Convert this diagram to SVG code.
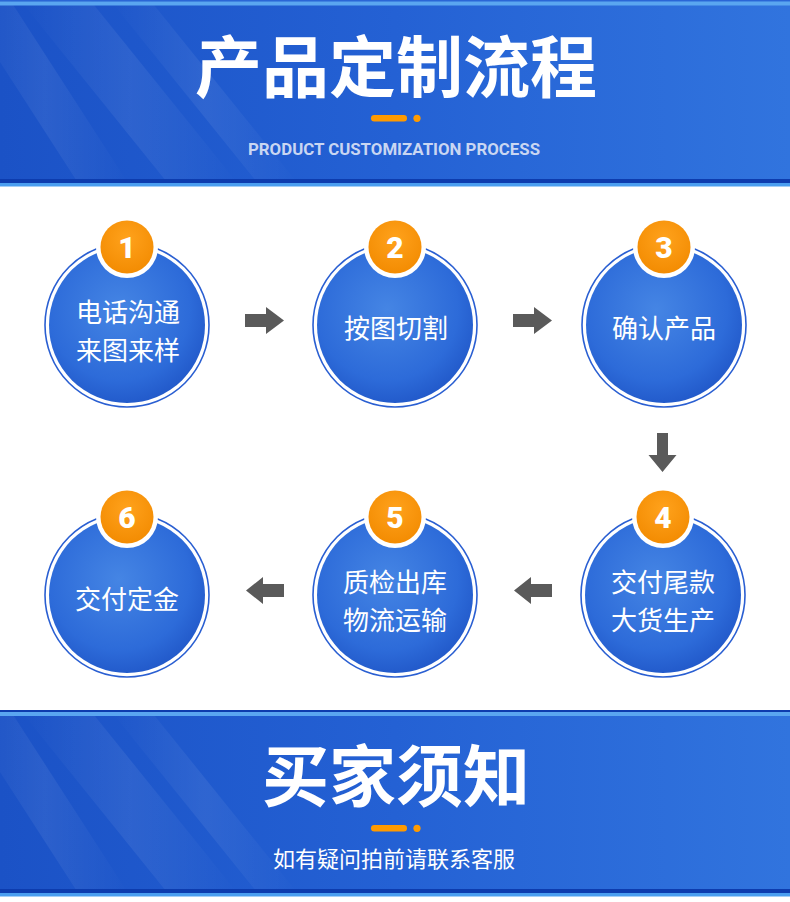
<svg xmlns="http://www.w3.org/2000/svg" width="790" height="902" viewBox="0 0 790 902">
<defs>
<linearGradient id="band" x1="0" y1="0" x2="1" y2="0">
<stop offset="0" stop-color="#1b52c6"/>
<stop offset="0.5" stop-color="#2461d4"/>
<stop offset="1" stop-color="#3174de"/>
</linearGradient>
<linearGradient id="streak" x1="0" y1="0" x2="1" y2="0">
<stop offset="0" stop-color="#ffffff" stop-opacity="0"/>
<stop offset="0.5" stop-color="#ffffff" stop-opacity="0.07"/>
<stop offset="1" stop-color="#ffffff" stop-opacity="0"/>
</linearGradient>
<radialGradient id="ball" cx="0.45" cy="0.4" r="0.7">
<stop offset="0" stop-color="#4585e4"/>
<stop offset="0.65" stop-color="#2d6bd9"/>
<stop offset="1" stop-color="#1c50c2"/>
</radialGradient>
<radialGradient id="badge" cx="0.5" cy="0.35" r="0.7">
<stop offset="0" stop-color="#ffa21c"/>
<stop offset="1" stop-color="#f28a00"/>
</radialGradient>
</defs>
<style>
.ring{fill:#ffffff;stroke:#2a5fd2;stroke-width:1.6}
.ball{fill:url(#ball)}
.bw{fill:#ffffff}
.bo{fill:url(#badge)}
.num{font-family:Roboto,"Liberation Sans",sans-serif;font-weight:900;font-size:30px;fill:#ffffff;text-anchor:middle}
.lbl{font-family:"Noto Sans CJK SC","Noto Sans",sans-serif;font-size:26px;fill:#ffffff;text-anchor:middle}
.arr{fill:#5a5a5a}
.title{font-family:"Noto Sans CJK SC",sans-serif;font-weight:700;font-size:67px;fill:#ffffff;text-anchor:middle}
.dash{fill:#ff9a00}
.streak{fill:url(#streak)}
</style>
<rect x="0" y="0" width="790" height="902" fill="#ffffff"/>

<g id="header">
<rect x="0" y="0" width="790" height="186" fill="url(#band)"/>
<polygon class="streak" points="20,0 90,0 240,186 170,186"/>
<polygon class="streak" points="110,0 150,0 300,186 260,186"/>
<polygon class="streak" points="-40,0 10,0 130,186 80,186"/>
<rect x="0" y="0" width="790" height="1.5" fill="#2a66d6"/>
<rect x="0" y="1.5" width="790" height="4" fill="#5aa6f0"/>
<rect x="0" y="179" width="790" height="4" fill="#0d3cae"/>
<rect x="0" y="183" width="790" height="3.5" fill="#4a9ef0"/>
<text class="title" x="396" y="92">产品定制流程</text>
<rect class="dash" x="371" y="115" width="36" height="6.5" rx="3.2"/>
<circle class="dash" cx="417" cy="118.3" r="3.6"/>
<text x="394" y="155" font-family="Roboto,'Liberation Sans',sans-serif" font-weight="700" font-size="16" fill="#c9d6f2" text-anchor="middle" textLength="292" lengthAdjust="spacingAndGlyphs">PRODUCT CUSTOMIZATION PROCESS</text>
</g>

<g id="connectors">
<polygon class="arr" points="245,314 266,314 266,307 284,320.5 266,334 266,327 245,327"/>
<polygon class="arr" points="513,314 534,314 534,307 552,320.5 534,334 534,327 513,327"/>
<polygon class="arr" points="657,433 668,433 668,455 676.5,455 662.5,472 648.5,455 657,455"/>
<polygon class="arr" points="552,584 531,584 531,577 514,590.5 531,604 531,597 552,597"/>
<polygon class="arr" points="284,584 263,584 263,577 246,590.5 263,604 263,597 284,597"/>
</g>

<g id="node1">
<circle class="ring" cx="127" cy="325" r="82"/>
<circle class="ball" cx="127" cy="325" r="78"/>
<circle class="bw" cx="127" cy="247" r="31"/>
<circle class="bo" cx="127" cy="247" r="26.5"/>
<text class="num" x="127" y="258">1</text>
<text class="lbl" x="128" y="322">电话沟通</text>
<text class="lbl" x="128" y="360">来图来样</text>
</g>
<g id="node2">
<circle class="ring" cx="395" cy="325" r="82"/>
<circle class="ball" cx="395" cy="325" r="78"/>
<circle class="bw" cx="395" cy="247" r="31"/>
<circle class="bo" cx="395" cy="247" r="26.5"/>
<text class="num" x="395" y="258">2</text>
<text class="lbl" x="396" y="338">按图切割</text>
</g>
<g id="node3">
<circle class="ring" cx="664" cy="325" r="82"/>
<circle class="ball" cx="664" cy="325" r="78"/>
<circle class="bw" cx="664" cy="247" r="31"/>
<circle class="bo" cx="664" cy="247" r="26.5"/>
<text class="num" x="664" y="258">3</text>
<text class="lbl" x="664" y="338">确认产品</text>
</g>
<g id="node4">
<circle class="ring" cx="663" cy="595" r="82"/>
<circle class="ball" cx="663" cy="595" r="78"/>
<circle class="bw" cx="663" cy="517" r="31"/>
<circle class="bo" cx="663" cy="517" r="26.5"/>
<text class="num" x="663" y="528">4</text>
<text class="lbl" x="663" y="592">交付尾款</text>
<text class="lbl" x="663" y="630">大货生产</text>
</g>
<g id="node5">
<circle class="ring" cx="395" cy="595" r="82"/>
<circle class="ball" cx="395" cy="595" r="78"/>
<circle class="bw" cx="395" cy="517" r="31"/>
<circle class="bo" cx="395" cy="517" r="26.5"/>
<text class="num" x="395" y="528">5</text>
<text class="lbl" x="395" y="592">质检出库</text>
<text class="lbl" x="395" y="630">物流运输</text>
</g>
<g id="node6">
<circle class="ring" cx="127" cy="595" r="82"/>
<circle class="ball" cx="127" cy="595" r="78"/>
<circle class="bw" cx="127" cy="517" r="31"/>
<circle class="bo" cx="127" cy="517" r="26.5"/>
<text class="num" x="127" y="528">6</text>
<text class="lbl" x="127" y="609">交付定金</text>
</g>

<g id="footer">
<rect x="0" y="710" width="790" height="186" fill="url(#band)"/>
<polygon class="streak" points="20,710 90,710 240,896 170,896"/>
<polygon class="streak" points="110,710 150,710 300,896 260,896"/>
<polygon class="streak" points="-40,710 10,710 130,896 80,896"/>
<rect x="0" y="710" width="790" height="2" fill="#0d3cae"/>
<rect x="0" y="712" width="790" height="4" fill="#5aa6f0"/>
<rect x="0" y="889" width="790" height="4" fill="#0d3cae"/>
<rect x="0" y="893" width="790" height="3.5" fill="#4a9ef0"/>
<text class="title" x="396" y="801">买家须知</text>
<rect class="dash" x="371" y="825" width="36" height="6.5" rx="3.2"/>
<circle class="dash" cx="417" cy="828.3" r="3.6"/>
<text x="394" y="867" font-family="'Noto Sans CJK SC',sans-serif" font-size="22" fill="#ffffff" text-anchor="middle">如有疑问拍前请联系客服</text>
</g>
</svg>
